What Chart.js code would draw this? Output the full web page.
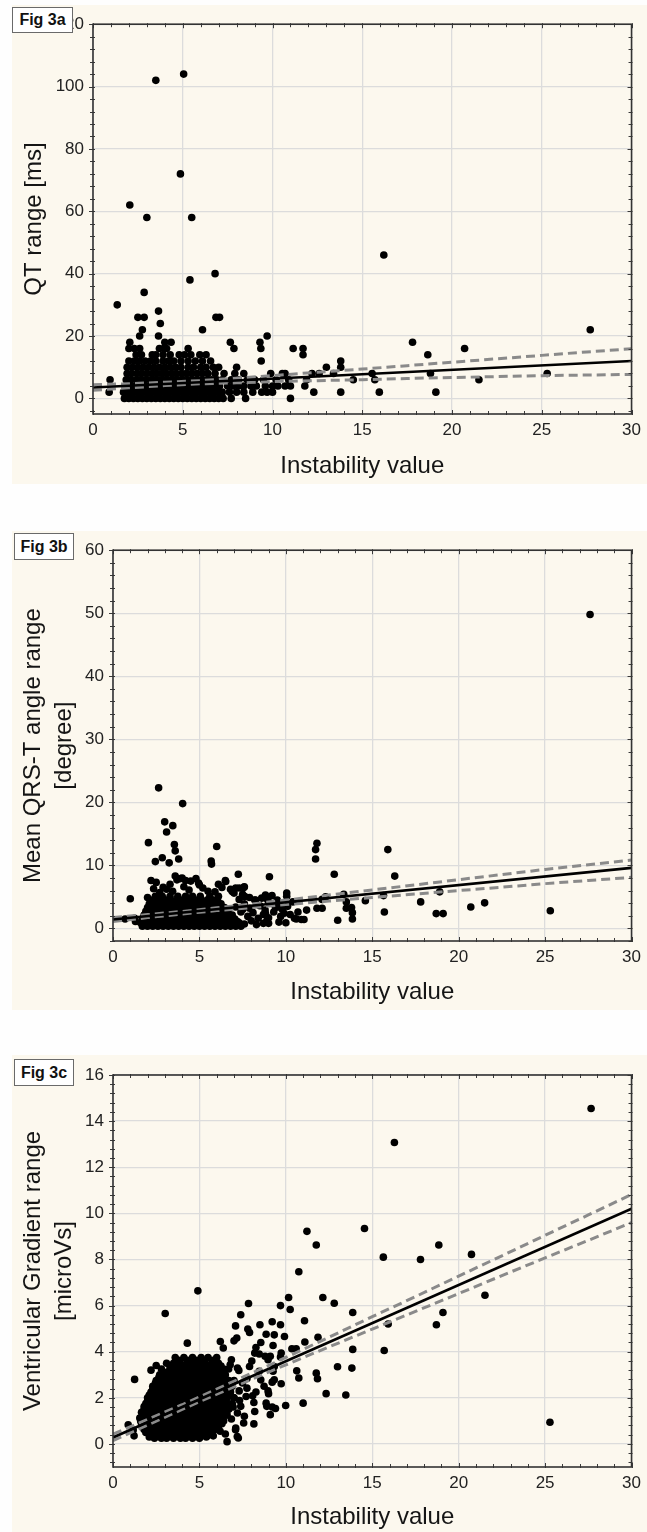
<!DOCTYPE html>
<html><head><meta charset="utf-8">
<script src="https://cdn.jsdelivr.net/npm/chart.js@4.4.1/dist/chart.umd.min.js"></script>
<style>
html,body{margin:0;padding:0;background:#fefefe;}
body{width:647px;height:1532px;position:relative;overflow:hidden;font-family:"Liberation Sans",Arial,sans-serif;}
.panel{position:absolute;left:12px;width:635px;background:#fcf8ee;}
.panel canvas{position:absolute;left:0;top:0;}
.fig{position:absolute;background:#fff;border:1px solid #6a6a6a;font:bold 16px "Liberation Sans",Arial,sans-serif;color:#111;text-align:center;box-sizing:border-box;z-index:2;}
</style></head>
<body>
<div class="panel" style="top:5px;height:479px"><canvas id="cA" width="635" height="479"></canvas></div>
<div class="panel" style="top:531px;height:479px"><canvas id="cB" width="635" height="479"></canvas></div>
<div class="panel" style="top:1055px;height:477px"><canvas id="cC" width="635" height="477"></canvas></div>
<div class="fig" style="left:12px;top:7px;width:61px;height:26px;line-height:24px">Fig 3a</div>
<div class="fig" style="left:14px;top:533px;width:60px;height:27px;line-height:25px">Fig 3b</div>
<div class="fig" style="left:14px;top:1059px;width:60px;height:27px;line-height:25px">Fig 3c</div>
<script>
// ---------- shared axis values ----------
const xTitle = 'Instability value';
const ciX = [0,2,4,6,8,10,12.5,15,17.5,20,22.5,25,27.5,30];
const fitX = [0,30];

// ---------- Fig 3a : QT range ----------
const qtTitle = 'QT range [ms]';
const qtFitY = [3.5,12.0];
const qtUpper = [4.4,4.7,5.2,5.7,6.5,7.3,8.4,9.4,10.5,11.6,12.7,13.8,14.9,15.9];
const qtLower = [2.6,3.4,4.1,4.7,5.0,5.4,5.7,6.0,6.4,6.7,7.0,7.3,7.5,7.7];
const qtRows = [
 [0,[1.75,2.0,2.25,2.5,2.75,3.0,3.25,3.5,3.75,4.0,4.25,4.5,4.75,5.0,5.25,5.5,5.75,6.0,6.25,6.5,6.75,7.0,7.25,7.7,8.5,11.0]],
 [2,[0.9,1.7,1.95,2.2,2.45,2.7,2.95,3.2,3.45,3.7,3.95,4.2,4.45,4.7,4.95,5.2,5.45,5.7,5.95,6.2,6.45,6.7,6.95,7.2,7.6,8.0,8.4,8.9,9.4,9.7,10.0,12.3,13.8,15.95,19.1]],
 [4,[1.8,2.05,2.3,2.55,2.8,3.05,3.3,3.55,3.8,4.05,4.3,4.55,4.8,5.05,5.3,5.55,5.8,6.05,6.3,6.55,6.8,7.05,7.5,7.8,8.1,8.4,8.8,9.1,9.6,10.0,10.3,10.7,11.0,11.8]],
 [6,[0.95,1.85,2.1,2.4,2.65,2.9,3.2,3.45,3.7,3.95,4.2,4.5,4.75,5.0,5.3,5.55,5.8,6.05,6.35,6.6,6.9,7.2,7.7,8.1,8.6,9.0,9.5,10.2,10.9,11.9,14.5,15.7,21.5]],
 [8,[1.9,2.15,2.45,2.7,3.0,3.3,3.55,3.85,4.1,4.4,4.65,4.95,5.2,5.5,5.8,6.1,6.4,6.8,7.3,7.9,8.4,9.9,10.55,10.7,12.2,12.6,13.4,15.55,18.8,25.3]],
 [10,[1.9,2.2,2.5,2.8,3.1,3.4,3.7,4.0,4.3,4.6,4.9,5.3,5.6,6.0,6.3,6.7,7.0,8.0,13.0,13.8]],
 [12,[2.0,2.3,2.6,2.9,3.2,3.5,3.9,4.2,4.5,4.9,5.3,5.7,6.1,6.55,9.37,13.8]],
 [14,[2.4,2.7,3.3,3.5,3.9,4.3,4.8,5.1,5.45,5.95,6.3,11.7,18.65]],
 [16,[2.0,2.3,2.6,3.7,3.95,4.1,5.3,7.85,9.35,11.15,11.7,20.7]],
 [18,[2.05,4.0,4.35,7.65,9.3,17.8]],
 [20,[2.6,3.65,9.7]],
 [22,[2.75,6.1,27.7]],
 [24,[3.75]],
 [26,[2.5,2.85,6.85,7.05]],
 [28,[3.65]],
 [30,[1.35]],
 [34,[2.85]],
 [38,[5.4]],
 [40,[6.8]],
 [46,[16.2]],
 [58,[3.0,5.5]],
 [62,[2.05]],
 [72,[4.87]],
 [102,[3.5]],
 [104,[5.05]]
];

// ---------- Fig 3b : Mean QRS-T angle range ----------
const qrsTitle = ['Mean QRS-T angle range','[degree]'];
const qrsFitY = [1.4,9.6];
const qrsUpper = [1.72,2.19,2.69,3.26,3.86,4.49,5.29,6.10,6.91,7.73,8.54,9.36,10.1,10.85];
const qrsLower = [1.08,1.71,2.29,2.82,3.30,3.77,4.33,4.90,5.45,6.00,6.54,7.10,7.6,8.1];
const qrsRows = [
 [0.35,[1.7,2.0,2.3,2.6,2.9,3.2,3.5,3.8,4.1,4.4,4.7,5.0,5.3,5.6,5.9,6.2,6.5,6.8,7.1,7.4]],
 [0.9,[1.6,1.9,2.2,2.5,2.8,3.1,3.4,3.7,4.0,4.3,4.6,4.9,5.2,5.5,5.8,6.1,6.4,6.7,7.0,7.3]],
 [1.5,[1.7,2.0,2.3,2.6,2.9,3.2,3.5,3.8,4.1,4.4,4.7,5.0,5.3,5.6,5.9,6.2,6.5,6.8,7.05]],
 [2.1,[1.8,2.1,2.4,2.7,3.0,3.3,3.6,3.9,4.2,4.5,4.8,5.1,5.4,5.7,6.0,6.3,6.6,6.9]],
 [2.7,[1.9,2.2,2.5,2.8,3.1,3.4,3.7,4.0,4.3,4.6,4.9,5.2,5.5,5.8,6.1,6.4,6.65]],
 [3.3,[2.0,2.3,2.6,2.9,3.2,3.5,3.8,4.1,4.4,4.7,5.0,5.3,5.6,5.9,6.2,6.45]],
 [3.9,[2.1,2.4,2.7,3.0,3.3,3.6,3.9,4.2,4.5,4.8,5.1,5.4,5.7,6.0,6.25]],
 [4.5,[2.3,2.65,3.0,3.35,3.7,4.05,4.4,4.75,5.1,5.45,5.8,6.05]],
 [5.1,[2.45,2.85,3.3,3.75,4.2,4.6,5.05,5.6,6.1]]
];
const qrsPoints = [
 [27.6,49.8],[2.64,22.3],[4.03,19.8],[2.99,16.9],[3.46,16.3],[3.1,15.3],[2.05,13.6],[3.55,13.3],[3.6,12.3],[6.0,13.0],
 [3.8,11.0],[2.45,10.6],[2.85,11.2],[3.25,10.4],[5.68,10.7],[5.7,10.2],[11.8,13.5],[11.72,12.5],[11.72,11.0],[15.9,12.5],
 [16.3,8.3],[12.8,8.6],[9.05,8.2],[7.25,8.6],[1.0,4.7],[17.8,4.2],[20.7,3.4],[21.5,4.05],[25.3,2.8],[18.7,2.35],
 [19.1,2.35],[18.9,5.8],[15.7,2.6],[13.85,1.5],[13.85,2.5],[13.8,3.3],[13.5,3.2],[13.5,4.2],[13.0,1.3],[14.6,4.4],
 [15.65,5.2],[12.1,3.2],[11.8,3.2],[12.3,5.0],[11.2,2.9],[11.05,1.4],[10.6,1.5],[10.9,1.4],[10.05,5.6],[10.05,5.1],
 [9.9,2.4],[9.6,1.0],[9.0,0.8],[8.7,0.8],[10.25,2.2],[10.5,1.6],[13.35,5.4],[12.1,4.6],
 [2.2,7.6],[2.5,7.3],[2.9,6.5],[3.6,8.3],[3.9,7.9],[4.2,7.6],[4.5,7.5],[4.0,8.0],[3.7,7.7],[4.8,7.9],
 [4.95,7.2],[3.3,7.0],[2.7,5.7],[3.1,6.2],[4.1,6.6],[4.4,6.1],[5.2,6.4],[5.5,5.9],[5.9,5.8],[6.3,6.5],
 [6.5,7.6],[6.8,6.2],[7.3,6.4],[7.6,6.6],[7.0,5.6],[6.1,7.0],[5.0,6.9],[3.45,5.9],[2.35,6.3],[7.5,5.4],
 [2.0,4.9],[6.52,7.45],[6.9,5.85],[7.1,6.4],[7.57,6.5],[7.63,5.05],[8.24,4.5],[8.82,5.3],[8.95,4.5],[8.82,2.4],
 [7.3,4.6],[7.6,3.9],[7.9,3.2],[8.2,4.5],[8.5,3.6],[8.8,2.9],[9.1,4.0],[9.4,3.3],[7.4,2.6],[7.8,1.9],
 [8.1,2.5],[8.4,1.6],[8.7,2.2],[9.0,1.7],[9.3,2.6],[9.6,3.4],[7.2,1.1],[7.6,0.7],[8.0,1.2],[8.3,0.6],
 [7.9,4.9],[8.6,4.8],[9.5,4.5],[9.8,3.0],[9.2,5.2],[7.1,3.4],[7.5,3.0],[8.9,1.2],[9.7,1.9],[10.1,3.5],
 [10.4,4.2],[10.7,2.6],[10.0,0.9],[1.25,1.6],[1.3,1.1],[0.7,1.5]
];

// ---------- Fig 3c : Ventricular Gradient range ----------
const vgTitle = ['Ventricular Gradient range','[microVs]'];
const vgFitY = [0.28,10.2];
const vgUpper = [0.43,1.06,1.70,2.38,3.06,3.75,4.63,5.52,6.39,7.28,8.16,9.05,9.93,10.82];
const vgLower = [0.14,0.82,1.50,2.16,2.80,3.43,4.21,4.98,5.75,6.52,7.30,8.07,8.83,9.60];
const vgRows = [
 [0.25,[2.4,2.8,3.1,3.5,3.9,4.2,4.6,5.0]],
 [0.375,[2.15,2.65,3.0,3.35,3.7,4.05,4.4,4.8,5.15,5.5]],
 [0.5,[1.9,2.2,2.5,2.9,3.2,3.6,3.9,4.3,4.6,5.0,5.3,5.7]],
 [0.625,[1.8,2.1,2.45,2.8,3.1,3.45,3.8,4.15,4.5,4.85,5.2,5.55,5.9]],
 [0.75,[1.7,2.0,2.3,2.7,3.0,3.3,3.7,4.0,4.4,4.7,5.1,5.4,5.8,6.1]],
 [0.875,[1.65,1.95,2.3,2.65,2.95,3.3,3.65,4.0,4.35,4.7,5.05,5.4,5.75,6.1,6.3]],
 [1.0,[1.6,1.9,2.2,2.6,2.9,3.2,3.6,3.9,4.3,4.6,5.0,5.3,5.7,6.0,6.4]],
 [1.125,[1.55,1.85,2.15,2.5,2.85,3.2,3.55,3.9,4.25,4.6,4.95,5.3,5.65,6.0,6.35]],
 [1.25,[1.7,2.0,2.3,2.7,3.0,3.4,3.7,4.1,4.4,4.8,5.1,5.5,5.8,6.2,6.6]],
 [1.375,[1.65,1.95,2.35,2.7,3.05,3.4,3.75,4.1,4.45,4.8,5.15,5.5,5.85,6.2,6.5]],
 [1.5,[1.8,2.1,2.5,2.8,3.2,3.5,3.9,4.2,4.6,4.9,5.3,5.6,6.0,6.3,6.7]],
 [1.625,[1.8,2.15,2.5,2.85,3.2,3.55,3.9,4.25,4.6,4.95,5.3,5.65,6.0,6.35,6.7]],
 [1.75,[1.9,2.2,2.6,2.9,3.3,3.6,4.0,4.3,4.7,5.0,5.4,5.8,6.1,6.5,6.9]],
 [1.875,[2.0,2.35,2.7,3.05,3.4,3.75,4.1,4.45,4.8,5.15,5.5,5.85,6.2,6.55]],
 [2.0,[2.0,2.4,2.7,3.1,3.4,3.8,4.1,4.5,4.8,5.2,5.5,5.9,6.2,6.6,7.0]],
 [2.125,[2.1,2.45,2.8,3.15,3.5,3.85,4.2,4.55,4.9,5.25,5.6,5.95,6.3,6.7]],
 [2.25,[2.2,2.5,2.9,3.2,3.6,3.9,4.3,4.6,5.0,5.3,5.7,6.0,6.4,6.8]],
 [2.375,[2.3,2.65,3.0,3.35,3.7,4.05,4.4,4.75,5.1,5.45,5.8,6.15,6.5]],
 [2.5,[2.3,2.7,3.0,3.4,3.7,4.1,4.4,4.8,5.1,5.5,5.8,6.2,6.5,6.9]],
 [2.625,[2.45,2.8,3.15,3.5,3.85,4.2,4.55,4.9,5.25,5.6,5.95,6.3,6.6]],
 [2.75,[2.5,2.9,3.2,3.6,3.9,4.3,4.6,5.0,5.3,5.7,6.0,6.4,6.7]],
 [2.875,[2.65,3.0,3.35,3.7,4.05,4.4,4.75,5.1,5.45,5.8,6.15,6.45]],
 [3.0,[2.7,3.0,3.4,3.7,4.1,4.4,4.8,5.1,5.5,5.8,6.2,6.5]],
 [3.125,[2.9,3.2,3.55,3.9,4.25,4.6,4.95,5.3,5.65,6.0,6.3]],
 [3.25,[2.8,3.3,3.6,4.0,4.3,4.7,5.0,5.4,5.7,6.1,6.4]],
 [3.375,[3.3,3.7,4.1,4.45,4.8,5.15,5.5,5.9,6.25]],
 [3.5,[3.1,3.5,3.9,4.3,4.6,5.0,5.3,5.7,6.1]],
 [3.625,[3.8,4.3,4.8,5.3,5.8]],
 [3.75,[3.6,4.1,4.6,5.1,5.5,6.0]]
];
const vgPoints = [
 [27.66,14.55],[16.28,13.07],[14.55,9.34],[11.22,9.22],[11.76,8.63],[18.85,8.63],[15.64,8.1],[17.79,8.0],[20.74,8.22],[10.75,7.47],
 [4.91,6.64],[21.52,6.45],[3.02,5.66],[12.14,6.35],[12.8,6.1],[10.16,6.35],[9.69,6.0],[10.25,5.83],[7.84,6.09],[7.39,5.6],
 [13.87,5.7],[19.09,5.7],[18.71,5.17],[15.92,5.2],[11.08,5.34],[15.69,4.05],[13.87,4.1],[13.82,3.29],[12.99,3.35],[13.47,2.12],
 [12.33,2.18],[11.0,1.77],[9.99,1.67],[25.28,0.94],[11.86,4.63],[11.1,4.42],[10.6,4.13],[10.35,4.13],[10.63,3.17],[10.75,2.86],
 [11.76,3.07],[11.83,2.83],[9.21,5.3],[9.69,5.17],[8.5,5.17],[9.92,4.66],[9.33,4.73],[9.26,4.27],[8.86,4.76],[7.8,4.98],
 [7.9,4.83],[7.09,5.12],[7.16,4.59],[7.0,4.47],[6.21,4.44],[6.38,4.16],[4.3,4.37],[8.55,4.4],[8.27,4.18],[8.2,3.94],
 [8.46,3.9],[8.8,3.8],[9.1,3.8],[8.97,3.65],[9.73,3.94],[9.69,3.77],[8.03,3.6],[7.9,3.36],[9.33,3.36],[9.26,3.15],
 [8.46,3.15],[8.55,2.78],[9.33,2.78],[9.21,2.68],[8.74,2.5],[8.27,2.25],[9.73,2.61],[8.97,2.3],[9.0,2.18],[8.86,1.77],
 [8.9,1.63],[9.21,1.6],[9.4,1.54],[9.1,1.27],[8.08,2.09],[8.15,1.8],[8.2,1.41],[8.15,0.87],[7.09,0.62],[7.25,0.26],
 [6.5,0.43],[6.6,0.1],[6.2,0.55],[7.56,0.91],[7.7,2.06],[7.75,2.42],[7.49,2.64],[7.75,2.84],[7.28,3.19],[6.85,3.65],
 [6.78,3.43],[6.69,3.25],[7.2,3.29],[6.45,2.64],[6.54,2.38],[7.32,1.88],[7.39,1.63],[7.2,1.34],[6.57,1.34],[6.85,1.08],
 [1.25,2.8],[0.88,0.83],[1.17,0.6],[1.22,0.35],[7.19,0.32],[7.1,0.69],[7.6,1.2],[7.0,2.0],[7.3,2.3],[7.0,2.75],
 [6.95,1.6],[2.2,3.2],[2.5,3.4],[5.4,0.3],[5.8,0.35],[2.1,0.3]
];

// ---------- helpers ----------
const FONT = '"Liberation Sans", Arial, sans-serif';
Chart.defaults.font.family = FONT;

function rowsToPoints(rows){ const out=[]; rows.forEach(([y,xs])=>xs.forEach(x=>out.push({x:x,y:y}))); return out; }
function pairsToPoints(p){ return p.map(([x,y])=>({x:x,y:y})); }
function zipXY(xs,ys){ return xs.map((x,i)=>({x:x,y:ys[i]})); }

const framePlugin = {
  id:'frame',
  afterDatasetsDraw(chart){
    const o = chart.options.plugins.frame;
    const {ctx, chartArea:a} = chart;
    const xs = chart.scales.x, ys = chart.scales.y;
    ctx.save();
    ctx.strokeStyle = '#3a3a3a';
    ctx.lineWidth = 1;
    ctx.beginPath();
    for (let v = xs.min; v <= xs.max + 1e-9; v += o.minorX) {
      const p = Math.round(xs.getPixelForValue(v)) + 0.5;
      const major = Math.abs(v/5 - Math.round(v/5)) < 1e-6;
      const L = major ? 4 : 3;
      ctx.moveTo(p, a.bottom + 1); ctx.lineTo(p, a.bottom - L);
      ctx.moveTo(p, a.top - 1); ctx.lineTo(p, a.top + L);
    }
    const start = Math.ceil(ys.min / o.minorY - 1e-9) * o.minorY;
    for (let v = start; v <= ys.max + 1e-9; v += o.minorY) {
      const p = Math.round(ys.getPixelForValue(v)) + 0.5;
      const major = Math.abs(v/o.majorY - Math.round(v/o.majorY)) < 1e-6;
      const L = major ? 4 : 3;
      ctx.moveTo(a.left - L, p); ctx.lineTo(a.left + 2, p);
      ctx.moveTo(a.right + 1, p); ctx.lineTo(a.right - L, p);
    }
    ctx.stroke();
    ctx.lineWidth = 1.6;
    ctx.strokeStyle = '#333';
    ctx.strokeRect(a.left, a.top, a.right - a.left, a.bottom - a.top);
    ctx.restore();
  }
};

function makeChart(id, cfg){
  const dsLine = (data, color, width, dash) => ({
    type:'scatter', data:data, showLine:true, borderColor:color, borderWidth:width,
    borderDash:dash, pointRadius:0, tension:0, fill:false
  });
  new Chart(document.getElementById(id), {
    type:'scatter',
    data:{ datasets:[
      dsLine(zipXY(fitX, cfg.fitY), '#000', 2.6, []),
      dsLine(zipXY(ciX, cfg.upper), '#8a8a8a', 3, [9,5]),
      dsLine(zipXY(ciX, cfg.lower), '#8a8a8a', 3, [9,5]),
      { data: cfg.points, backgroundColor:'#000', borderWidth:0, pointRadius:3.8, pointHoverRadius:3.8 }
    ]},
    options:{
      responsive:false, animation:false, events:[],
      layout:{ padding:{ top:cfg.padTop, right:11, left:0, bottom:0 } },
      plugins:{ legend:{display:false}, tooltip:{enabled:false},
        frame:{ minorX:1, minorY:cfg.minorY, majorY:cfg.stepY } },
      scales:{
        x:{ type:'linear', min:0, max:30,
          ticks:{ stepSize:5, includeBounds:false, padding:6, color:'#222', font:{size:17} },
          grid:{ color:'#dcdcdc', lineWidth:1.3, drawTicks:false },
          border:{ display:false },
          title:{ display:true, text:xTitle, color:'#151515', font:{size:24, lineHeight:1.2},
                  padding:{top:0, bottom:cfg.xTitlePad} },
          afterFit:(s)=>{ s.height = cfg.xHeight; }
        },
        y:{ type:'linear', min:cfg.minY, max:cfg.maxY,
          ticks:{ stepSize:cfg.stepY, includeBounds:false, padding:9, color:'#222', font:{size:17} },
          grid:{ color:'#dcdcdc', lineWidth:1.3, drawTicks:false },
          border:{ display:false },
          title:{ display:true, text:cfg.yTitle, color:'#151515', font:{size:24, lineHeight:cfg.yLH},
                  padding:{top:cfg.yTitlePad, bottom:0} },
          afterFit:(s)=>{ s.width = cfg.yWidth; }
        }
      }
    },
    plugins:[framePlugin]
  });
}

makeChart('cA', {
  fitY:qtFitY, upper:qtUpper, lower:qtLower, points:rowsToPoints(qtRows),
  minY:-5, maxY:120, stepY:20, minorY:4, yTitle:qtTitle, yLH:1.2,
  padTop:18, xHeight:70, yWidth:81, xTitlePad:3.6, yTitlePad:7.6
});
makeChart('cB', {
  fitY:qrsFitY, upper:qrsUpper, lower:qrsLower,
  points:rowsToPoints(qrsRows).concat(pairsToPoints(qrsPoints)),
  minY:-2, maxY:60, stepY:10, minorY:2, yTitle:qrsTitle, yLH:1.3,
  padTop:18, xHeight:69, yWidth:101, xTitlePad:2.9, yTitlePad:5.4
});
makeChart('cC', {
  fitY:vgFitY, upper:vgUpper, lower:vgLower,
  points:rowsToPoints(vgRows).concat(pairsToPoints(vgPoints)),
  minY:-1, maxY:16, stepY:2, minorY:0.4, yTitle:vgTitle, yLH:1.3,
  padTop:20, xHeight:65, yWidth:101, xTitlePad:0, yTitlePad:5.4
});
</script>
</body></html>
